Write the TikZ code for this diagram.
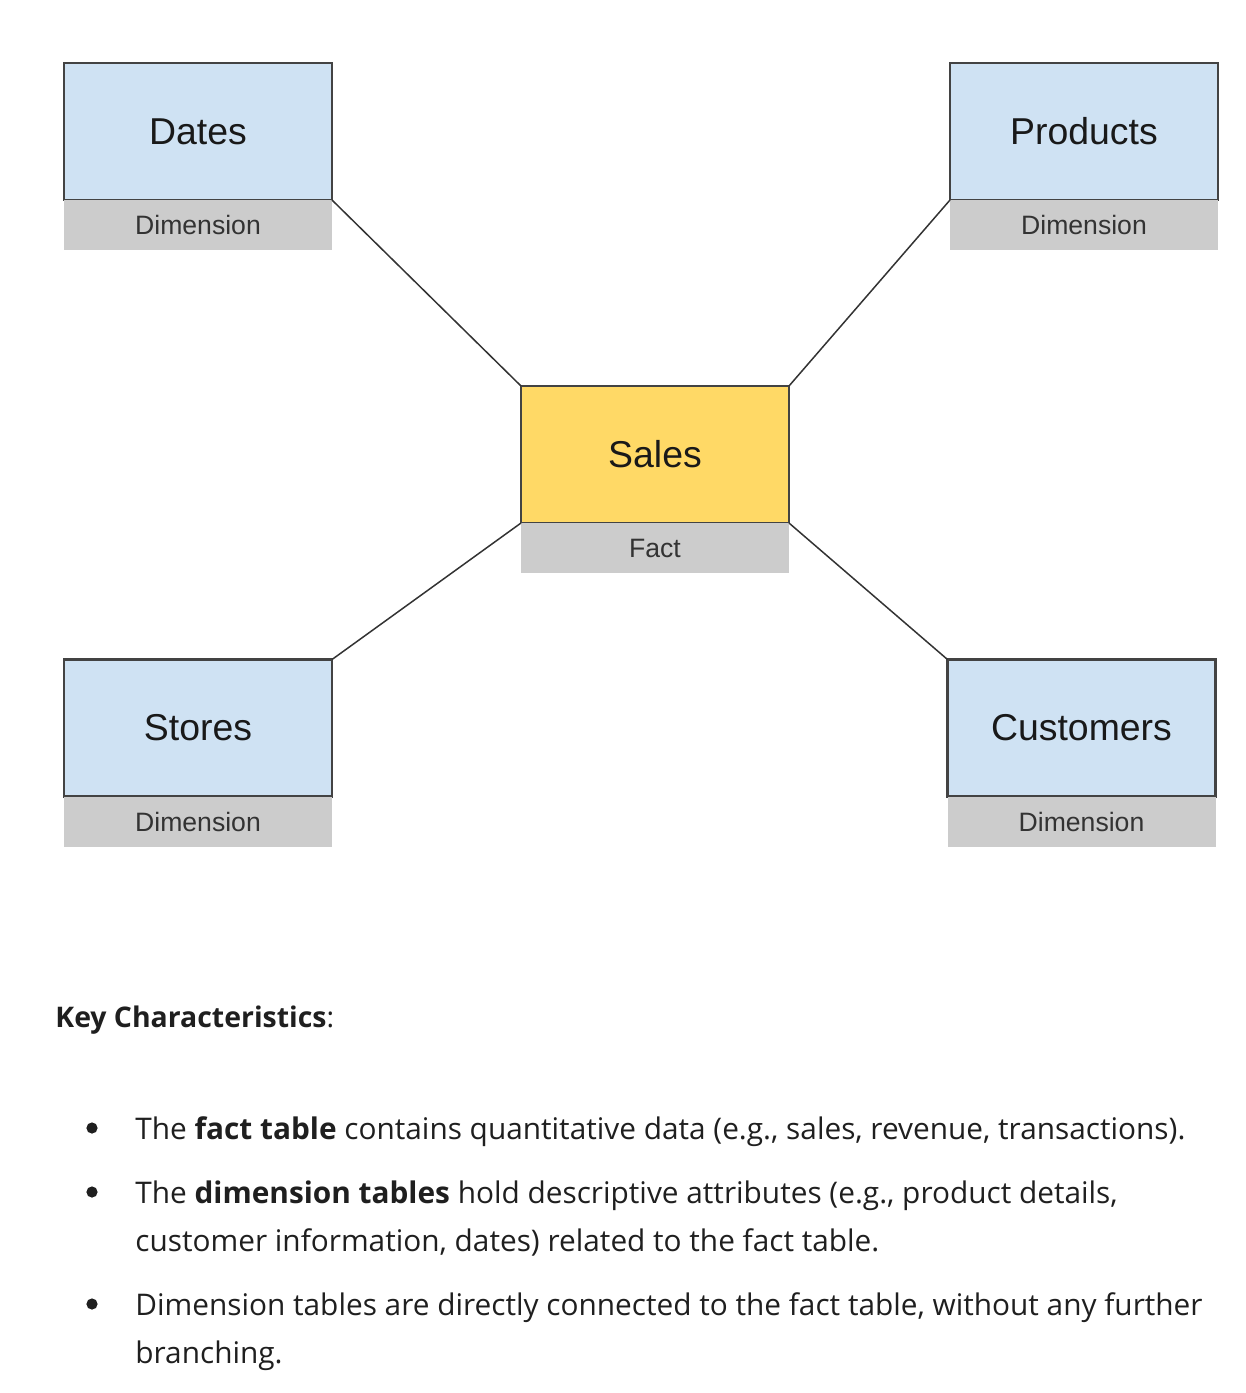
\documentclass[tikz,border=0pt]{standalone}
\usepackage{fontspec}
\setmainfont{Open Sans}
\newfontfamily\boxfont{Liberation Sans}
\definecolor{dimblue}{HTML}{CFE2F3}
\definecolor{factyellow}{HTML}{FFD966}
\definecolor{stripgray}{HTML}{CCCCCC}
\definecolor{edgegray}{HTML}{434343}
\definecolor{bodytext}{HTML}{1F1F1F}
\tikzset{
  tbl/.style={draw=edgegray, line width=1.2pt, inner sep=0pt, outer sep=0pt,
    minimum width=134pt, minimum height=68.5pt,
    font=\boxfont\fontsize{18.7pt}{22pt}\selectfont, text=black!90},
  dimtbl/.style={tbl, fill=dimblue},
  facttbl/.style={tbl, fill=factyellow},
  strip/.style={fill=stripgray, inner sep=0pt, outer sep=0pt,
    minimum width=134pt, minimum height=25pt, anchor=north,
    font=\boxfont\fontsize{13.3pt}{16pt}\selectfont, text=black!80},
  link/.style={draw=black!80, line width=0.75pt},
  body/.style={anchor=base west, inner sep=0pt, text=bodytext,
    font=\fontsize{14.9pt}{18pt}\selectfont},
  keyhead/.style={body, font=\fontsize{14.2pt}{18pt}\selectfont},
  bul/.style={circle, fill=bodytext, inner sep=0pt, minimum size=5.6pt}
}
\begin{document}
\begin{tikzpicture}[x=0.5pt, y=-0.5pt]
\useasboundingbox (0,0) rectangle (1246,1393);
% tables
\node[dimtbl] (dates) at (198,131.5) {Dates};
\node[strip] (datesS) at (dates.south) {Dimension};
\node[dimtbl] (products) at (1084,131.5) {Products};
\node[strip] (productsS) at (products.south) {Dimension};
\node[facttbl] (sales) at (655,454.5) {Sales};
\node[strip] (salesS) at (sales.south) {Fact};
\node[dimtbl] (stores) at (198,728) {Stores};
\node[strip] (storesS) at (stores.south) {Dimension};
\node[dimtbl] (customers) at (1081.5,728) {Customers};
\node[strip] (customersS) at (customers.south) {Dimension};
% links
\draw[link] (dates.south east) -- (sales.north west);
\draw[link] (products.south west) -- (sales.north east);
\draw[link] (sales.south west) -- (stores.north east);
\draw[link] (sales.south east) -- (customers.north west);
% text
\node[keyhead] (key) at (55,1027) {\textbf{Key Characteristics}:};
\node[bul] (b1) at (92,1128) {};
\node[body] (t1) at (135,1139) {The \textbf{fact table} contains quantitative data (e.g., sales, revenue, transactions).};
\node[bul] (b2) at (92,1192) {};
\node[body] (t2) at (135,1203) {The \textbf{dimension tables} hold descriptive attributes (e.g., product details,};
\node[body] (t2b) at (135,1251) {customer information, dates) related to the fact table.};
\node[bul] (b3) at (92,1304) {};
\node[body] (t3) at (135,1315) {Dimension tables are directly connected to the fact table, without any further};
\node[body] (t3b) at (135,1363) {branching.};
\end{tikzpicture}
\end{document}
